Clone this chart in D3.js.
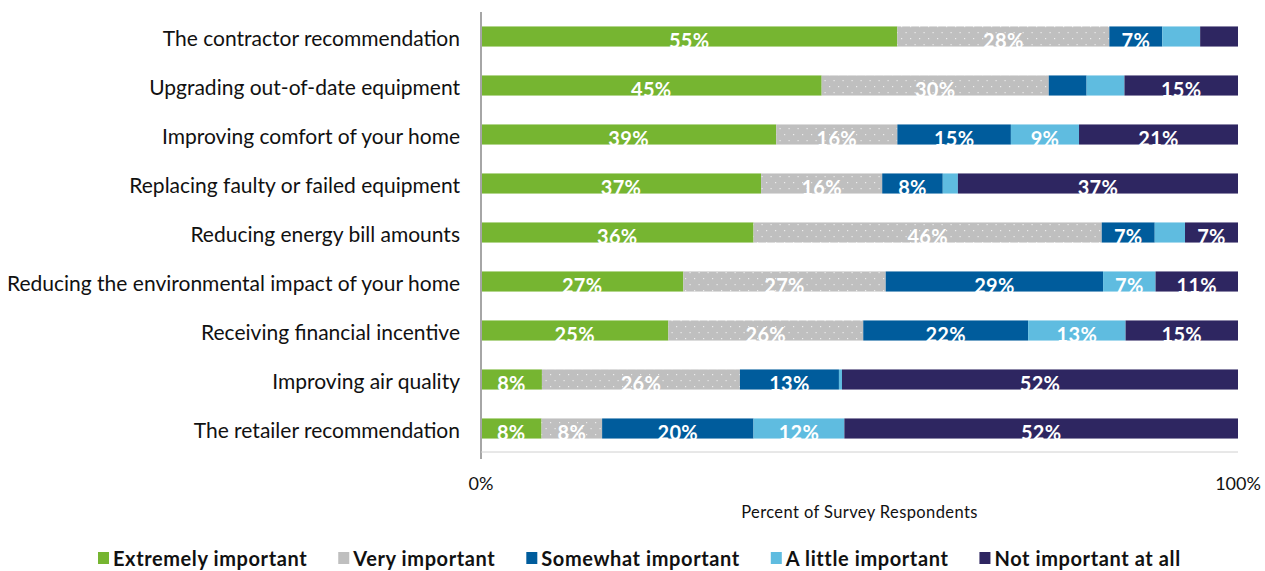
<!DOCTYPE html>
<html>
<head>
<meta charset="utf-8">
<script src="https://cdn.jsdelivr.net/npm/d3@7"></script>
<style>
  html, body { margin: 0; padding: 0; background: #fff; }
  svg { display: block; font-family: "Lato", "Open Sans", sans-serif; }
</style>
</head>
<body>
<svg id="chart" width="1265" height="571"></svg>
<script>
// Motivations behind the purchase decision, share of respondents per rating
const categories = [
  "The contractor recommendation",
  "Upgrading out-of-date equipment",
  "Improving comfort of your home",
  "Replacing faulty or failed equipment",
  "Reducing energy bill amounts",
  "Reducing the environmental impact of your home",
  "Receiving financial incentive",
  "Improving air quality",
  "The retailer recommendation"
];
const seriesNames = ["Extremely important", "Very important", "Somewhat important", "A little important", "Not important at all"];
const extremely = [55, 45, 39, 37, 36, 27, 25, 8, 8];
const very      = [28, 30, 16, 16, 46, 27, 26, 26, 8];
const somewhat  = [7, 5, 15, 8, 7, 29, 22, 13, 20];
const aLittle   = [5, 5, 9, 2, 4, 7, 13, 0.4, 12];
const notAtAll  = [5, 15, 21, 37, 7, 11, 15, 52, 52];
const xTickLabels = ["0%", "100%"];
const axisTitle = "Percent of Survey Respondents";

const colors = ["#76B531", "#BFBFBF", "#005C9C", "#5FBCE0", "#2E2661"];
const seriesValues = [extremely, very, somewhat, aLittle, notAtAll];

const rows = categories.map((c, i) => {
  const r = { category: c };
  seriesNames.forEach((s, j) => { r[s] = seriesValues[j][i]; });
  return r;
});

const svg = d3.select("#chart");
const margin = { left: 481, right: 27, top: 12 };
const W = 1265;

// dotted fill for the "Very important" segments
const defs = svg.append("defs");
const pat = defs.append("pattern")
  .attr("id", "dots").attr("patternUnits", "userSpaceOnUse")
  .attr("width", 9).attr("height", 12);
pat.append("rect").attr("width", 9).attr("height", 12).attr("fill", colors[1]);
pat.append("rect").attr("x", 1).attr("y", 2).attr("width", 1.2).attr("height", 1.2).attr("fill", "#ececec");
pat.append("rect").attr("x", 5.5).attr("y", 8).attr("width", 1.2).attr("height", 1.2).attr("fill", "#ececec");
const fills = colors.map((c, i) => i === 1 ? "url(#dots)" : c);

const x = d3.scaleLinear().domain([0, 1]).range([margin.left, W - margin.right]);
const y = d3.scaleBand().domain(categories)
  .range([margin.top, 453])
  .paddingInner(0.59).paddingOuter(0.295);

const stack = d3.stack().keys(seriesNames).offset(d3.stackOffsetExpand);
const layers = stack(rows);

// bars
const g = svg.append("g");
layers.forEach((layer, k) => {
  g.append("g").selectAll("rect").data(layer).join("rect")
    .attr("x", d => x(d[0]))
    .attr("y", d => y(d.data.category))
    .attr("width", d => Math.max(0, x(d[1]) - x(d[0])))
    .attr("height", y.bandwidth())
    .attr("fill", fills[k]);
});

// value labels inside segments
layers.forEach((layer, k) => {
  g.append("g").selectAll("text").data(layer.filter(d => d.data[seriesNames[k]] >= 6)).join("text")
    .attr("x", d => (x(d[0]) + x(d[1])) / 2)
    .attr("y", d => y(d.data.category) + y.bandwidth() + 1)
    .attr("text-anchor", "middle")
    .attr("fill", "#fff")
    .attr("font-weight", "bold")
    .attr("font-size", 20)
    .attr("letter-spacing", 0.3)
    .text(d => d.data[seriesNames[k]] + "%");
});

// axes lines
svg.append("line").attr("x1", margin.left).attr("x2", margin.left)
  .attr("y1", margin.top).attr("y2", 459)
  .attr("stroke", "#A6A6A6").attr("stroke-width", 2);
svg.append("line").attr("x1", margin.left).attr("x2", W - margin.right)
  .attr("y1", 452).attr("y2", 452)
  .attr("stroke", "#D0D0D0").attr("stroke-width", 1);

// category labels
svg.append("g").selectAll("text").data(categories).join("text")
  .attr("x", 460)
  .attr("y", d => y(d) + y.bandwidth() / 2 + 9)
  .attr("text-anchor", "end")
  .attr("fill", "#111")
  .attr("font-size", 21)
  .text(d => d);

// x tick labels
svg.append("g").selectAll("text").data(xTickLabels).join("text")
  .attr("x", (d, i) => x(i))
  .attr("y", 490)
  .attr("text-anchor", "middle")
  .attr("fill", "#111")
  .attr("font-size", 18)
  .text(d => d);

svg.append("text")
  .attr("x", (x(0) + x(1)) / 2).attr("y", 518)
  .attr("text-anchor", "middle").attr("fill", "#111")
  .attr("font-size", 16.5)
  .attr("letter-spacing", 0.4)
  .text(axisTitle);

// legend
const legend = svg.append("g").attr("transform", "translate(0,566)");
let lx = 98;
seriesNames.forEach((s, i) => {
  const item = legend.append("g").attr("transform", `translate(${lx},0)`);
  item.append("rect").attr("x", 0).attr("y", -14).attr("width", 11).attr("height", 12).attr("fill", colors[i]);
  const t = item.append("text").attr("x", 15).attr("y", 0)
    .attr("font-size", 20).attr("font-weight", "bold").attr("letter-spacing", 0.6)
    .attr("fill", "#111").text(s);
  lx += 15 + t.node().getComputedTextLength() + 31;
});
</script>
</body>
</html>
